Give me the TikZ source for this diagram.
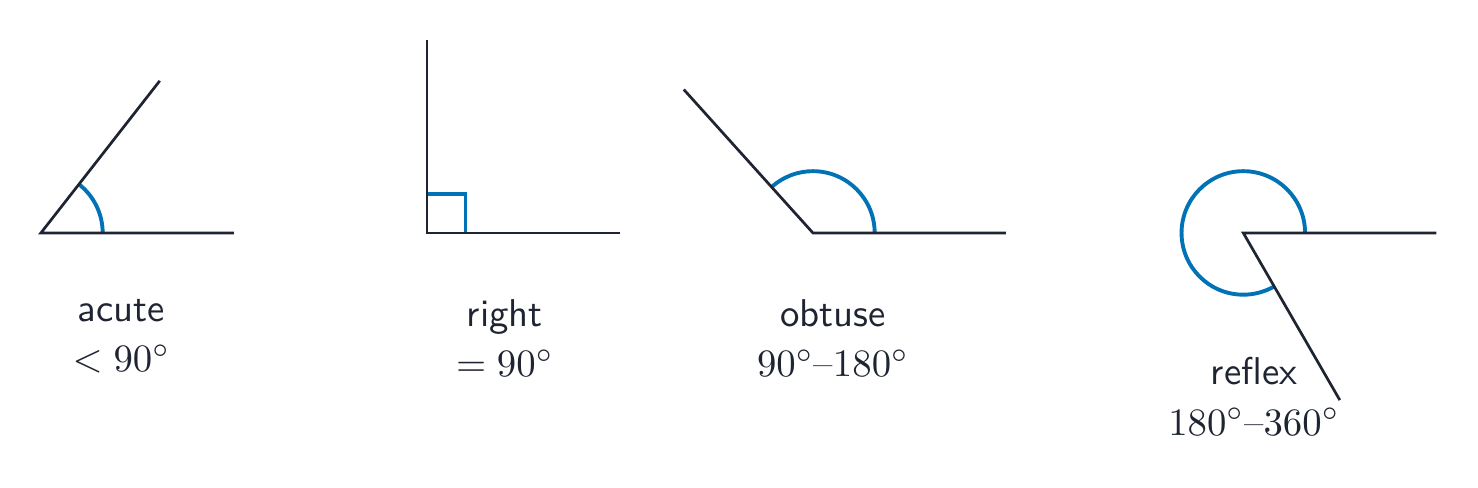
\documentclass[tikz,border=0pt]{standalone}
\usepackage{tikz}
\definecolor{ink}{RGB}{30,36,50}
\definecolor{angblue}{RGB}{0,114,181}
\def\dray{\draw[ink,line width=0.7pt]}
\def\dmark{\draw[angblue,line width=1pt]}

\begin{document}
\begin{tikzpicture}[x=1.75cm,y=1.75cm,
    lbl/.style={text=ink,align=center,anchor=base,font=\sffamily}]
  \useasboundingbox (-0.212,-1.321) rectangle (7.446,1.207);
  % acute
  \coordinate (acuteV) at (0,0);
  \dmark ([shift={(0:0.32)}]acuteV) arc[start angle=0,end angle=52,radius=0.32];
  \dray ([shift={(52:1)}]acuteV) -- (acuteV) -- ++(1,0);
  \node[lbl] (acute) at (0.417,-0.720) {acute\\[1pt]$<90^\circ$};
  % right
  \coordinate (rightV) at (2,0);
  \dmark ([xshift=0.35cm]rightV) -- ++(0,0.2) -- ++(-0.2,0);
  \dray ([shift={(90:1)}]rightV) -- (rightV) -- ++(1,0);
  \node[lbl] (right) at (2.404,-0.746) {right\\[1pt]$=90^\circ$};
  % obtuse
  \coordinate (obtuseV) at (4,0);
  \dmark ([shift={(0:0.32)}]obtuseV) arc[start angle=0,end angle=132,radius=0.32];
  \dray ([shift={(132:1)}]obtuseV) -- (obtuseV) -- ++(1,0);
  \node[lbl] (obtuse) at (4.104,-0.746) {obtuse\\[1pt]$90^\circ$\textrm{--}$180^\circ$};
  % reflex
  \coordinate (reflexV) at (6.23,0);
  \dmark ([shift={(0:0.32)}]reflexV) arc[start angle=0,end angle=300,radius=0.32];
  \dray ([shift={(300:1)}]reflexV) -- (reflexV) -- ++(1,0);
  \node[lbl] (reflex) at (6.285,-1.047) {reflex\\[1pt]$180^\circ$\textrm{--}$360^\circ$};
\end{tikzpicture}
\end{document}
